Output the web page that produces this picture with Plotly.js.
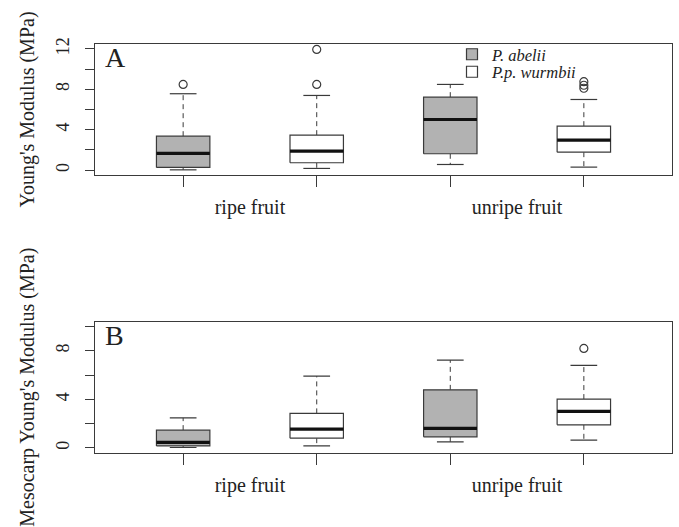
<!DOCTYPE html>
<html>
<head>
<meta charset="utf-8">
<script src="https://cdn.plot.ly/plotly-3.0.1.min.js"></script>
<style>html,body{margin:0;padding:0;background:#fff;}#chart{width:679px;height:527px;}</style>
</head>
<body>
<div id="chart"></div>
<script>
// ---- data ----
const groupNames = ['ripe fruit', 'unripe fruit'];
const boxGroup = [0, 0, 1, 1];
const boxSpecies = ['P. abelii', 'P.p. wurmbii', 'P. abelii', 'P.p. wurmbii'];
const positions = [1, 2, 3, 4];

// Panel A: Young's Modulus (MPa)
const A_lower  = [0.03, 0.17, 0.56, 0.30];
const A_q1     = [0.27, 0.73, 1.62, 1.78];
const A_median = [1.65, 1.88, 5.01, 2.97];
const A_q3     = [3.36, 3.46, 7.22, 4.35];
const A_upper  = [7.56, 7.39, 8.48, 6.99];
const A_out    = [[8.48], [8.48, 11.94], [], [8.1, 8.4, 8.75]];

// Panel B: Mesocarp Young's Modulus (MPa)
const B_lower  = [0.03, 0.16, 0.49, 0.64];
const B_q1     = [0.16, 0.80, 0.91, 1.90];
const B_median = [0.45, 1.54, 1.60, 3.00];
const B_q3     = [1.46, 2.84, 4.78, 4.02];
const B_upper  = [2.47, 5.91, 7.23, 6.80];
const B_out    = [[], [], [], [8.20]];

// ---- styles ----
const speciesFill = {'P. abelii': '#b2b2b2', 'P.p. wurmbii': '#ffffff'};
const edge = '#3a3a3a';
const serif = 'Liberation Serif, Times New Roman, serif';
const halfBox = 0.2, halfCap = 0.1;

const traces = [];
function addPanel(xa, ya, lower, q1, med, q3, upper, outs) {
  positions.forEach((p, i) => {
    const sp = boxSpecies[i];
    // whiskers (dashed)
    traces.push({type: 'scatter', mode: 'lines', xaxis: xa, yaxis: ya, showlegend: false, hoverinfo: 'skip',
      x: [p, p, null, p, p], y: [q3[i], upper[i], null, q1[i], lower[i]],
      line: {color: edge, width: 1, dash: '5px,4px'}});
    // caps
    traces.push({type: 'scatter', mode: 'lines', xaxis: xa, yaxis: ya, showlegend: false, hoverinfo: 'skip',
      x: [p - halfCap, p + halfCap, null, p - halfCap, p + halfCap],
      y: [upper[i], upper[i], null, lower[i], lower[i]],
      line: {color: edge, width: 1.2}});
    // box
    traces.push({type: 'scatter', mode: 'lines', xaxis: xa, yaxis: ya, showlegend: false, hoverinfo: 'skip',
      x: [p - halfBox, p + halfBox, p + halfBox, p - halfBox, p - halfBox],
      y: [q1[i], q1[i], q3[i], q3[i], q1[i]],
      fill: 'toself', fillcolor: speciesFill[sp], line: {color: edge, width: 1.2}});
    // median
    traces.push({type: 'scatter', mode: 'lines', xaxis: xa, yaxis: ya, showlegend: false, hoverinfo: 'skip',
      x: [p - halfBox, p + halfBox], y: [med[i], med[i]],
      line: {color: '#111', width: 3.2}});
    // outliers
    if (outs[i].length) {
      traces.push({type: 'scatter', mode: 'markers', xaxis: xa, yaxis: ya, showlegend: false, hoverinfo: 'skip',
        x: outs[i].map(() => p), y: outs[i],
        marker: {symbol: 'circle-open', size: 8, color: edge, line: {width: 1.2, color: edge}}});
    }
  });
}
addPanel('x', 'y', A_lower, A_q1, A_median, A_q3, A_upper, A_out);
addPanel('x2', 'y2', B_lower, B_q1, B_median, B_q3, B_upper, B_out);

// legend entries
['P. abelii', 'P.p. wurmbii'].forEach((sp, k) => {
  traces.push({type: 'scatter', mode: 'markers', xaxis: 'x', yaxis: 'y', x: [null], y: [null],
    name: sp, showlegend: true, legend: k === 0 ? 'legend' : 'legend2',
    marker: {symbol: 'square', size: 11, color: speciesFill[sp], line: {color: edge, width: 1.2}}});
});

const groupCenters = groupNames.map((g, gi) => {
  const ps = positions.filter((p, i) => boxGroup[i] === gi);
  return ps.reduce((a, b) => a + b, 0) / ps.length;
});

function xAxis(anchor) {
  return {domain: [95/679, 672/679], anchor: anchor, range: [0.34, 4.66],
    showline: true, mirror: true, linecolor: edge, linewidth: 1, showgrid: false, zeroline: false,
    tickmode: 'array', tickvals: groupCenters, ticktext: groupNames, ticks: '',
    ticklabelstandoff: 14,
    tickfont: {family: serif, size: 20, color: '#222'},
    minor: {tickmode: 'array', tickvals: positions, ticks: 'outside', ticklen: 11, tickcolor: edge, tickwidth: 1, showgrid: false},
    automargin: false};
}
function yAxis(domain, anchor, range, title) {
  return {domain: domain, anchor: anchor, range: range,
    showline: true, mirror: true, linecolor: edge, linewidth: 1, showgrid: false, zeroline: false,
    tickmode: 'linear', tick0: 0, dtick: 4, ticks: 'outside', ticklen: 9, tickcolor: edge,
    ticklabelstandoff: 9,
    tickangle: -90, tickfont: {family: serif, size: 18, color: '#222'},
    minor: {tick0: 0, dtick: 2, ticks: 'outside', ticklen: 9, tickcolor: edge, showgrid: false},
    title: {text: title, font: {family: serif, size: 20, color: '#222'}, standoff: 12},
    automargin: false};
}

const legendFont = {family: serif, size: 16.5, style: 'italic', color: '#222'};
const layout = {
  width: 679, height: 527,
  margin: {l: 0, r: 0, t: 0, b: 0},
  paper_bgcolor: '#fff', plot_bgcolor: '#fff',
  xaxis: xAxis('y'),
  yaxis: yAxis([(527-175)/527, (527-44)/527], 'x', [-0.48, 12.48], "Young's Modulus (MPa)"),
  xaxis2: xAxis('y2'),
  yaxis2: yAxis([(527-452.7)/527, (527-321.7)/527], 'x2', [-0.4, 10.4], "Mesocarp Young's Modulus (MPa)"),
  legend: {x: (472-20)/679, y: (527-54.5)/527, xanchor: 'left', yanchor: 'middle', bgcolor: 'rgba(0,0,0,0)', font: legendFont},
  legend2: {x: (472-20)/679, y: (527-72)/527, xanchor: 'left', yanchor: 'middle', bgcolor: 'rgba(0,0,0,0)', font: legendFont},
  annotations: [
    {text: 'A', xref: 'x domain', yref: 'y domain', x: 0.013, y: 0.895, xanchor: 'left', yanchor: 'middle', showarrow: false,
      font: {family: serif, size: 28, color: '#222'}},
    {text: 'B', xref: 'x2 domain', yref: 'y2 domain', x: 0.013, y: 0.895, xanchor: 'left', yanchor: 'middle', showarrow: false,
      font: {family: serif, size: 28, color: '#222'}}
  ],
  showlegend: true
};

Plotly.newPlot('chart', traces, layout, {displayModeBar: false, staticPlot: true});
</script>
</body>
</html>
